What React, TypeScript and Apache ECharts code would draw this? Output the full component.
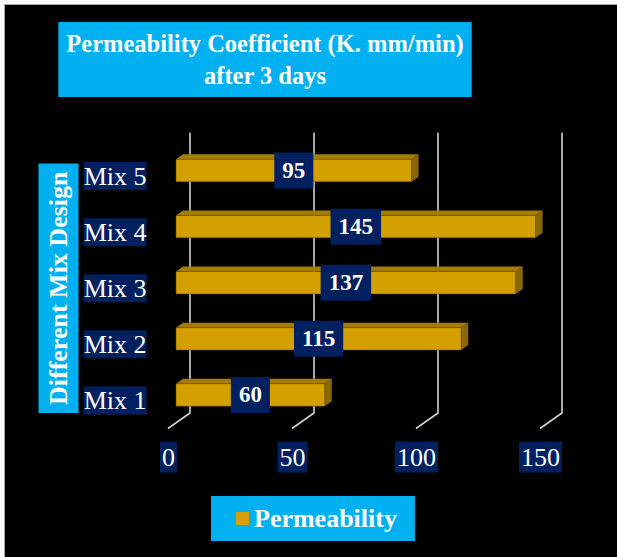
import React, { useEffect, useRef } from "react";
import * as echarts from "echarts";

const categories = ["Mix 1", "Mix 2", "Mix 3", "Mix 4", "Mix 5"];
const permeability = [60, 115, 137, 145, 95];
const xTicks = [0, 50, 100, 150];
const titleText = "Permeability Coefficient (K. mm/min)\nafter 3 days";
const yAxisName = "Different Mix Design";
const seriesName = "Permeability";

const SERIF = '"Liberation Serif", "Times New Roman", serif';
const CYAN = "#00B0F0";
const NAVY = "#002060";
const GOLD = "#D4A000";
const GOLD_TOP = "#A57D00";
const GOLD_SIDE = "#8A6800";
const GRID_COLOR = "#D0D0D0";

export default function App() {
  const ref = useRef<HTMLDivElement>(null);

  useEffect(() => {
    document.body.style.margin = "0";
    if (!ref.current) return;
    const chart = echarts.init(ref.current, undefined, { renderer: "svg" });

    const plotW = 372;
    const plotH = 280.5;
    const hiddenX = (gridIndex: number) => ({
      type: "value" as const,
      gridIndex,
      min: 0,
      max: 150,
      interval: 50,
      axisLine: { show: false },
      axisTick: { show: false },
      axisLabel: { show: false },
      splitLine: { show: false },
    });
    const hiddenY = (gridIndex: number) => ({
      type: "category" as const,
      gridIndex,
      data: categories,
      axisLine: { show: false },
      axisTick: { show: false },
      axisLabel: { show: false },
      splitLine: { show: false },
    });

    const option: any = {
      animation: false,
      backgroundColor: "#ffffff",
      graphic: [
        {
          type: "rect",
          z: -10,
          silent: true,
          shape: { x: 4.5, y: 4.5, width: 640, height: 580 },
          style: { fill: "#000000", stroke: "#A6A6A6", lineWidth: 1 },
        },
      ],
      title: {
        text: titleText,
        left: 257,
        top: 22,
        textAlign: "center",
        backgroundColor: CYAN,
        padding: [5.5, 8, 5.5, 8],
        textStyle: {
          color: "#ffffff",
          fontWeight: "bold",
          fontFamily: SERIF,
          fontSize: 24.5,
          lineHeight: 32,
        },
      },
      legend: {
        data: [{ name: seriesName, icon: "rect", itemStyle: { color: GOLD } }],
        left: 211,
        top: 496,
        backgroundColor: CYAN,
        padding: [9, 18, 9, 25],
        itemWidth: 13,
        itemHeight: 13,
        selectedMode: false,
        textStyle: {
          color: "#ffffff",
          fontWeight: "bold",
          fontFamily: SERIF,
          fontSize: 26,
          lineHeight: 27,
        },
      },
      grid: [
        { left: 190, top: 132.5, width: plotW, height: plotH },
        { left: 176, top: 142.5, width: plotW, height: plotH },
        { left: 168.5, top: 148, width: plotW, height: plotH },
      ],
      xAxis: [
        hiddenX(0),
        hiddenX(1),
        {
          ...hiddenX(2),
          axisLabel: {
            show: true,
            color: "#ffffff",
            fontFamily: SERIF,
            fontSize: 26,
            lineHeight: 27,
            backgroundColor: NAVY,
            padding: [2, 2, 2, 2],
            margin: 13,
          },
        },
      ],
      yAxis: [
        hiddenY(0),
        hiddenY(1),
        {
          ...hiddenY(2),
          axisLabel: {
            show: true,
            color: "#ffffff",
            fontFamily: SERIF,
            fontSize: 26,
            lineHeight: 28,
            backgroundColor: NAVY,
            padding: [0, 0, 0, 0],
            margin: 22,
          },
          name: yAxisName,
          nameLocation: "middle",
          nameRotate: 90,
          nameGap: 90,
          nameMoveOverlap: false,
          nameTextStyle: {
            color: "#ffffff",
            fontWeight: "bold",
            fontFamily: SERIF,
            fontSize: 26,
            lineHeight: 30,
            backgroundColor: CYAN,
            padding: [5, 8, 5, 8],
          },
        },
      ],
      series: [
        {
          name: "gridlines",
          type: "custom",
          xAxisIndex: 0,
          yAxisIndex: 0,
          silent: true,
          z: 1,
          data: xTicks.map((t) => [t, 0]),
          renderItem: (params: any, api: any) => {
            const cs = params.coordSys;
            const x = api.coord([api.value(0), 0])[0];
            const bottom = cs.y + cs.height;
            return {
              type: "polyline",
              shape: {
                points: [
                  [x, cs.y],
                  [x, bottom],
                  [x - 22, bottom + 15.5],
                ],
              },
              style: { stroke: GRID_COLOR, lineWidth: 1.6, fill: "none" },
            };
          },
        },
        {
          name: seriesName,
          type: "custom",
          xAxisIndex: 1,
          yAxisIndex: 1,
          z: 2,
          itemStyle: { color: GOLD },
          data: permeability.map((v, i) => [v, i]),
          renderItem: (_params: any, api: any) => {
            const v = api.value(0);
            const c = api.value(1);
            const p0 = api.coord([0, c]);
            const p1 = api.coord([v, c]);
            const h = api.size([0, 1])[1] * 0.4;
            const dx = 7;
            const dy = 5;
            const yT = p0[1] - h / 2;
            const yB = p0[1] + h / 2;
            return {
              type: "group",
              children: [
                {
                  type: "polygon",
                  shape: {
                    points: [
                      [p0[0], yT],
                      [p1[0], yT],
                      [p1[0] + dx, yT - dy],
                      [p0[0] + dx, yT - dy],
                    ],
                  },
                  style: { fill: GOLD_TOP },
                },
                {
                  type: "polygon",
                  shape: {
                    points: [
                      [p1[0], yT],
                      [p1[0] + dx, yT - dy],
                      [p1[0] + dx, yB - dy],
                      [p1[0], yB],
                    ],
                  },
                  style: { fill: GOLD_SIDE },
                },
                {
                  type: "rect",
                  shape: { x: p0[0], y: yT, width: p1[0] - p0[0], height: h },
                  style: { fill: GOLD, stroke: "rgba(90,70,0,0.6)", lineWidth: 0.8 },
                },
              ],
            };
          },
        },
        {
          name: "Permeability values",
          type: "bar",
          xAxisIndex: 1,
          yAxisIndex: 1,
          z: 5,
          silent: true,
          barWidth: 22,
          data: permeability,
          itemStyle: { color: "rgba(0,0,0,0)" },
          label: {
            show: true,
            position: "inside",
            formatter: "{c}",
            color: "#ffffff",
            fontWeight: "bold",
            fontFamily: SERIF,
            fontSize: 23,
            lineHeight: 24,
            backgroundColor: NAVY,
            padding: [6, 8, 6, 8],
          },
        },
      ],
    };

    chart.setOption(option);
    return () => {
      chart.dispose();
    };
  }, []);

  return <div ref={ref} style={{ width: 617, height: 557 }} />;
}
